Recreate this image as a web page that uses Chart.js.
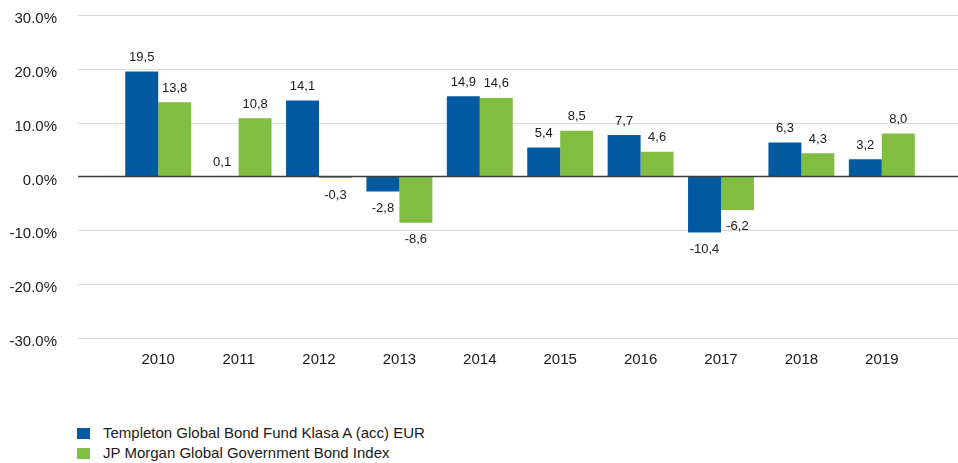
<!DOCTYPE html>
<html>
<head>
<meta charset="utf-8">
<script src="https://cdn.jsdelivr.net/npm/chart.js@4"></script>
<style>
    body { margin: 0; background: #fff; font-family: "Liberation Sans", Arial, sans-serif; }
    #wrap { position: relative; width: 958px; height: 463px; }
    #chartBox { position: absolute; left: 0; top: 0; width: 958px; height: 400px; }
    #legend { position: absolute; left: 77px; top: 423px; font-size: 15px; color: #1a1a1a; }
    .legendRow { height: 20px; line-height: 20px; display: flex; align-items: center; }
    .legendBox { width: 13px; height: 11px; margin-right: 13px; }
</style>
</head>
<body>
<div id="wrap">
    <div id="chartBox"><canvas id="returnsChart"></canvas></div>
    <div id="legend"></div>
</div>
<script>
// ---------------------------------------------------------
// DATA
// ---------------------------------------------------------
const years = ['2010', '2011', '2012', '2013', '2014', '2015', '2016', '2017', '2018', '2019'];
const fundReturns = [19.5, 0.1, 14.1, -2.8, 14.9, 5.4, 7.7, -10.4, 6.3, 3.2];
const indexReturns = [13.8, 10.8, -0.3, -8.6, 14.6, 8.5, 4.6, -6.2, 4.3, 8.0];
const seriesNames = ['Templeton Global Bond Fund Klasa A (acc) EUR', 'JP Morgan Global Government Bond Index'];
const yTicks = [-30, -20, -10, 0, 10, 20, 30];

const BLUE = '#035AA0';
const GREEN = '#80BD41';
const FONT = '"Liberation Sans", Arial, sans-serif';

// horizontal grid lines that run past the category area, like the original
const gridPlugin = {
    id: 'wideGrid',
    beforeDatasetsDraw(chart) {
        const ctx = chart.ctx;
        const y = chart.scales.y;
        ctx.save();
        ctx.strokeStyle = '#d9d9d9';
        ctx.lineWidth = 1;
        yTicks.forEach(v => {
            if (v === 0) return;
            const py = Math.round(y.getPixelForValue(v)) + 0.5;
            ctx.beginPath();
            ctx.moveTo(78, py);
            ctx.lineTo(chart.width, py);
            ctx.stroke();
        });
        ctx.restore();
    },
    afterDatasetsDraw(chart) {
        const ctx = chart.ctx;
        const py = chart.scales.y.getPixelForValue(0);
        ctx.save();
        ctx.strokeStyle = '#3d3d3d';
        ctx.lineWidth = 1.5;
        ctx.beginPath();
        ctx.moveTo(78, py);
        ctx.lineTo(chart.width, py);
        ctx.stroke();
        ctx.restore();
    }
};

// value labels above / below each bar, with comma decimals
const valueLabels = {
    id: 'valueLabels',
    afterDatasetsDraw(chart) {
        const ctx = chart.ctx;
        ctx.save();
        ctx.font = '13px ' + FONT;
        ctx.fillStyle = '#1a1a1a';
        ctx.textAlign = 'center';
        ctx.textBaseline = 'middle';
        chart.data.datasets.forEach((ds, di) => {
            chart.getDatasetMeta(di).data.forEach((bar, i) => {
                const v = ds.data[i];
                const txt = v.toFixed(1).replace('.', ',');
                const ty = v >= 0 ? bar.y - 14 : bar.y + 17;
                ctx.fillText(txt, bar.x, ty);
            });
        });
        ctx.restore();
    }
};

new Chart(document.getElementById('returnsChart'), {
    type: 'bar',
    data: {
        labels: years,
        datasets: [
            { label: seriesNames[0], data: fundReturns, backgroundColor: BLUE },
            { label: seriesNames[1], data: indexReturns, backgroundColor: GREEN }
        ]
    },
    options: {
        responsive: true,
        maintainAspectRatio: false,
        animation: false,
        layout: { padding: { top: 15, right: 36, left: 0, bottom: 0 } },
        datasets: { bar: { categoryPercentage: 0.82, barPercentage: 1.0 } },
        scales: {
            x: {
                grid: { display: false, drawTicks: false },
                border: { display: false },
                ticks: { color: '#1a1a1a', font: { family: FONT, size: 15 }, padding: 13, maxRotation: 0 },
                afterFit(scale) { scale.height = 62; }
            },
            y: {
                min: -30,
                max: 30,
                grid: { display: false, drawTicks: false },
                border: { display: false },
                ticks: {
                    stepSize: 10,
                    color: '#1a1a1a',
                    font: { family: FONT, size: 15 },
                    padding: 61,
                    labelOffset: 4,
                    callback: v => v.toFixed(1) + '%'
                },
                afterFit(scale) {
                    // big tick padding is only meant horizontally
                    scale.width = 118;
                    scale.paddingTop = 0;
                    scale.paddingBottom = 0;
                }
            }
        },
        plugins: {
            legend: { display: false },
            tooltip: { enabled: false }
        }
    },
    plugins: [gridPlugin, valueLabels]
});

// legend stacked in two rows, bottom left
const legendEl = document.getElementById('legend');
[BLUE, GREEN].forEach((c, i) => {
    const row = document.createElement('div');
    row.className = 'legendRow';
    row.innerHTML = `<span class="legendBox" style="background:${c}"></span><span>${seriesNames[i]}</span>`;
    legendEl.appendChild(row);
});
</script>
</body>
</html>
